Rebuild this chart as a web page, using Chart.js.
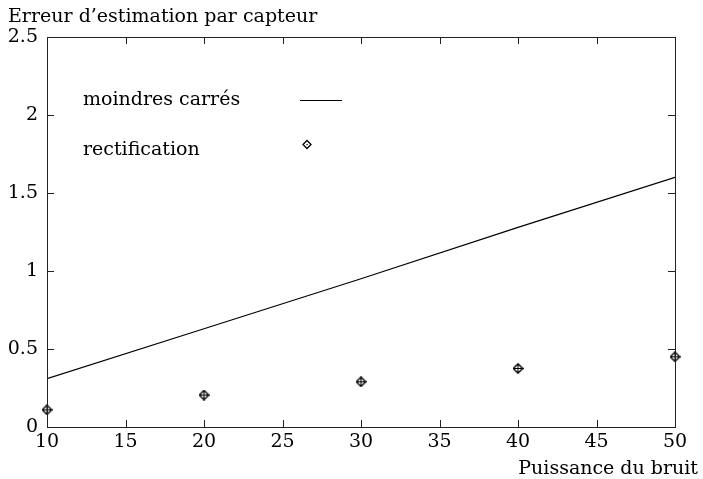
<!DOCTYPE html>
<html><head><meta charset="utf-8">
<script src="https://cdn.jsdelivr.net/npm/chart.js@4.4.0/dist/chart.umd.min.js"></script>
<style>html,body{margin:0;padding:0;background:#fff}#c{display:block}</style>
</head><body>
<canvas id="c" width="703" height="479"></canvas>
<script>
const xValues = [10, 20, 30, 40, 50];
const moindresCarres = [0.31, 0.63, 0.95, 1.28, 1.60];
const rectification = [0.11, 0.205, 0.29, 0.375, 0.45];
const seriesNames = ['moindres carrés', 'rectification'];
const yTitle = 'Erreur d\u2019estimation par capteur';
const xTitle = 'Puissance du bruit';

const FONT = '"DejaVu Serif", "Liberation Serif", serif';
const FS = 19;

// marker: diamond with plus inside
const mk = document.createElement('canvas');
mk.width = 11; mk.height = 11;
(function(){
  const g = mk.getContext('2d');
  g.strokeStyle = '#000'; g.lineWidth = 1.4;
  g.beginPath(); g.moveTo(5.5,0.8); g.lineTo(10.2,5.5); g.lineTo(5.5,10.2); g.lineTo(0.8,5.5); g.closePath(); g.stroke();
  g.lineWidth = 1;
  g.beginPath(); g.moveTo(5.5,1.5); g.lineTo(5.5,9.5); g.moveTo(1.5,5.5); g.lineTo(9.5,5.5); g.stroke();
})();

const deco = {
  id: 'deco',
  afterDraw(chart) {
    const ctx = chart.ctx, a = chart.chartArea;
    const xs = chart.scales.x, ys = chart.scales.y;
    ctx.save();
    ctx.strokeStyle = '#222'; ctx.lineWidth = 1;
    ctx.strokeRect(a.left + 0.5, a.top + 0.5, a.right - a.left, a.bottom - a.top);
    const T = 7;
    ctx.beginPath();
    xs.ticks.forEach(t => {
      const p = Math.round(xs.getPixelForValue(t.value)) + 0.5;
      ctx.moveTo(p, a.bottom); ctx.lineTo(p, a.bottom - T);
      ctx.moveTo(p, a.top); ctx.lineTo(p, a.top + T);
    });
    ys.ticks.forEach(t => {
      const p = Math.round(ys.getPixelForValue(t.value)) + 0.5;
      ctx.moveTo(a.left, p); ctx.lineTo(a.left + T, p);
      ctx.moveTo(a.right, p); ctx.lineTo(a.right - T, p);
    });
    ctx.stroke();
    // titles
    ctx.fillStyle = '#000';
    ctx.font = FS + 'px ' + FONT;
    ctx.textBaseline = 'middle';
    ctx.textAlign = 'left';
    ctx.fillText(yTitle, 8, 17);
    ctx.textAlign = 'right';
    ctx.fillText(xTitle, 698, 469);
    // legend
    ctx.textAlign = 'left';
    ctx.fillText(seriesNames[0], 83, 100);
    ctx.fillText(seriesNames[1], 83, 150);
    ctx.strokeStyle = '#000';
    ctx.beginPath(); ctx.moveTo(300, 100.5); ctx.lineTo(342, 100.5); ctx.stroke();
    ctx.lineWidth = 1.3;
    ctx.beginPath(); ctx.moveTo(307, 140.5); ctx.lineTo(311, 144.5); ctx.lineTo(307, 148.5); ctx.lineTo(303, 144.5); ctx.closePath(); ctx.stroke();
    ctx.fillRect(306.5, 144, 1.2, 1.2);
    ctx.restore();
  }
};

new Chart(document.getElementById('c'), {
  type: 'scatter',
  data: {
    datasets: [
      { label: seriesNames[0], data: xValues.map((x, i) => ({x, y: moindresCarres[i]})), showLine: true, borderColor: '#000', borderWidth: 1.2, pointRadius: 0, fill: false },
      { label: seriesNames[1], data: xValues.map((x, i) => ({x, y: rectification[i]})), showLine: false, pointStyle: mk, pointRadius: 5, clip: false }
    ]
  },
  options: {
    responsive: false, animation: false,
    layout: { padding: { left: 0, top: 37, right: 28, bottom: 0 } },
    plugins: { legend: { display: false }, tooltip: { enabled: false } },
    scales: {
      x: {
        type: 'linear', min: 10, max: 50,
        ticks: { stepSize: 5, color: '#000', font: { family: FONT, size: FS }, padding: 4, maxRotation: 0 },
        grid: { display: false, drawTicks: false }, border: { display: false },
        afterFit(s) { s.height = 52; }
      },
      y: {
        min: 0, max: 2.5,
        ticks: { stepSize: 0.5, color: '#000', font: { family: FONT, size: FS }, padding: 9, callback: v => String(v) },
        grid: { display: false, drawTicks: false }, border: { display: false },
        afterFit(s) { s.width = 47; }
      }
    }
  },
  plugins: [deco]
});
</script>
</body></html>
